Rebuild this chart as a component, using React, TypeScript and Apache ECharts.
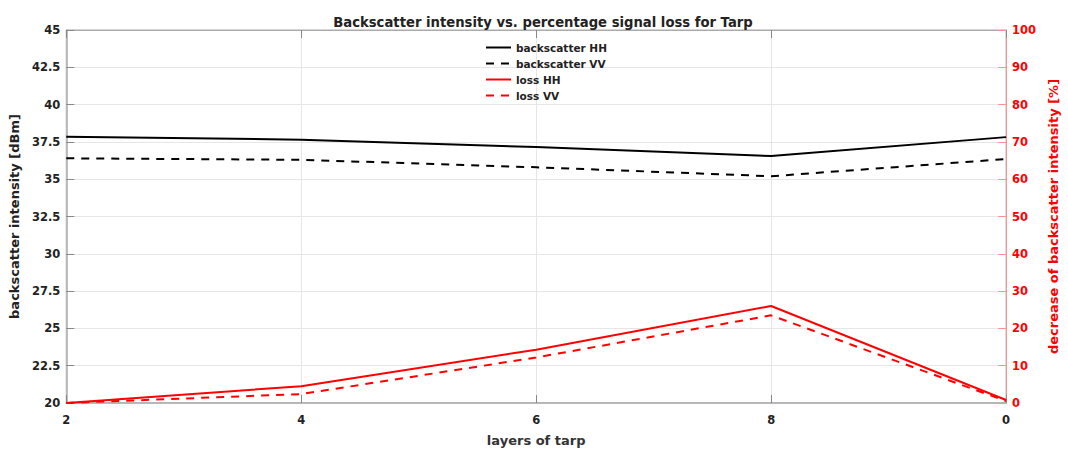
import React, { useEffect, useRef } from "react";
import * as echarts from "echarts";

const categories = ["2", "4", "6", "8", "0"];
const backscatterHH = [37.85, 37.65, 37.15, 36.55, 37.82];
const backscatterVV = [36.4, 36.3, 35.8, 35.2, 36.35];
const lossHH = [0, 4.5, 14.3, 26.0, 0.8];
const lossVV = [0, 2.4, 12.2, 23.5, 0.5];

export default function App() {
  const ref = useRef<HTMLDivElement>(null);
  useEffect(() => {
    const chart = echarts.init(ref.current!, null, { renderer: "svg" });
    const font = "'DejaVu Sans', sans-serif";
    chart.setOption({
      animation: false,
      textStyle: { fontFamily: font },
      title: {
        text: "Backscatter intensity vs. percentage signal loss for Tarp",
        left: 538,
        textAlign: "center",
        top: 11,
        textStyle: { fontSize: 13.2, fontWeight: "bold", color: "#222", fontFamily: font },
      },
      legend: {
        left: 480,
        top: 37,
        orient: "vertical",
        itemGap: 5,
        itemWidth: 25,
        itemHeight: 12,
        itemStyle: { opacity: 0 },
        textStyle: { fontSize: 10.5, fontWeight: "bold", color: "#222", fontFamily: font },
        data: ["backscatter HH", "backscatter VV", "loss HH", "loss VV"],
      },
      grid: {
        left: 63,
        right: 54,
        top: 30,
        bottom: 46,
        show: true,
        borderColor: "#aaaaaa",
        borderWidth: 1,
      },
      xAxis: [
        {
          type: "category",
          data: categories,
          boundaryGap: false,
          name: "layers of tarp",
          nameLocation: "middle",
          nameGap: 31,
          nameTextStyle: { fontSize: 13, fontWeight: "bold", color: "#333", fontFamily: font },
          axisLine: { lineStyle: { color: "#aaaaaa", width: 1.5 } },
          axisTick: { inside: true, length: 8, lineStyle: { color: "#888" } },
          axisLabel: { fontSize: 11.5, fontWeight: "bold", color: "#222", margin: 11, fontFamily: font },
          splitLine: { show: true, lineStyle: { color: "#e6e6e6" } },
        },
        {
          type: "category",
          data: categories,
          boundaryGap: false,
          position: "top",
          axisLine: { lineStyle: { color: "#aaaaaa" } },
          axisTick: { inside: true, length: 8, lineStyle: { color: "#888" } },
          axisLabel: { show: false },
          splitLine: { show: false },
        },
      ],
      yAxis: [
        {
          type: "value",
          min: 20,
          max: 45,
          interval: 2.5,
          name: "backscatter intensity [dBm]",
          nameLocation: "middle",
          nameGap: 36,
          nameTextStyle: { fontSize: 13, fontWeight: "bold", color: "#222", fontFamily: font },
          axisLine: { show: true, lineStyle: { color: "#aaaaaa", width: 1.5 } },
          axisTick: { show: true, inside: true, length: 8, lineStyle: { color: "#888" } },
          axisLabel: { fontSize: 11.5, fontWeight: "bold", color: "#222", margin: 6, fontFamily: font },
          splitLine: { show: true, lineStyle: { color: "#e6e6e6" } },
        },
        {
          type: "value",
          min: 0,
          max: 100,
          interval: 10,
          position: "right",
          name: "decrease of backscatter intensity [%]",
          nameLocation: "middle",
          nameGap: 38,
          nameRotate: 90,
          nameTextStyle: { fontSize: 13, fontWeight: "bold", color: "#ff0000", fontFamily: font },
          axisLine: { show: true, lineStyle: { color: "#ff9090", width: 1 } },
          axisTick: { show: true, inside: true, length: 8, lineStyle: { color: "#ff9090" } },
          axisLabel: { fontSize: 11.5, fontWeight: "bold", color: "#ff0000", margin: 6, fontFamily: font },
          splitLine: { show: false },
        },
      ],
      series: [
        {
          name: "backscatter HH",
          type: "line",
          data: backscatterHH,
          yAxisIndex: 0,
          symbol: "none",
          itemStyle: { color: "#000" },
          lineStyle: { color: "#000", width: 2, type: "solid" },
        },
        {
          name: "backscatter VV",
          type: "line",
          data: backscatterVV,
          yAxisIndex: 0,
          symbol: "none",
          itemStyle: { color: "#000" },
          lineStyle: { color: "#000", width: 2, type: [8, 7] },
        },
        {
          name: "loss HH",
          type: "line",
          data: lossHH,
          yAxisIndex: 1,
          symbol: "none",
          itemStyle: { color: "#ff0000" },
          lineStyle: { color: "#ff0000", width: 2, type: "solid" },
        },
        {
          name: "loss VV",
          type: "line",
          data: lossVV,
          yAxisIndex: 1,
          symbol: "none",
          itemStyle: { color: "#ff0000" },
          lineStyle: { color: "#ff0000", width: 2, type: [8, 7] },
        },
      ],
    });
    return () => chart.dispose();
  }, []);
  return (
    <div
      ref={ref}
      style={{ position: "fixed", left: 0, top: 0, width: 1068, height: 452, background: "#fff" }}
    />
  );
}
